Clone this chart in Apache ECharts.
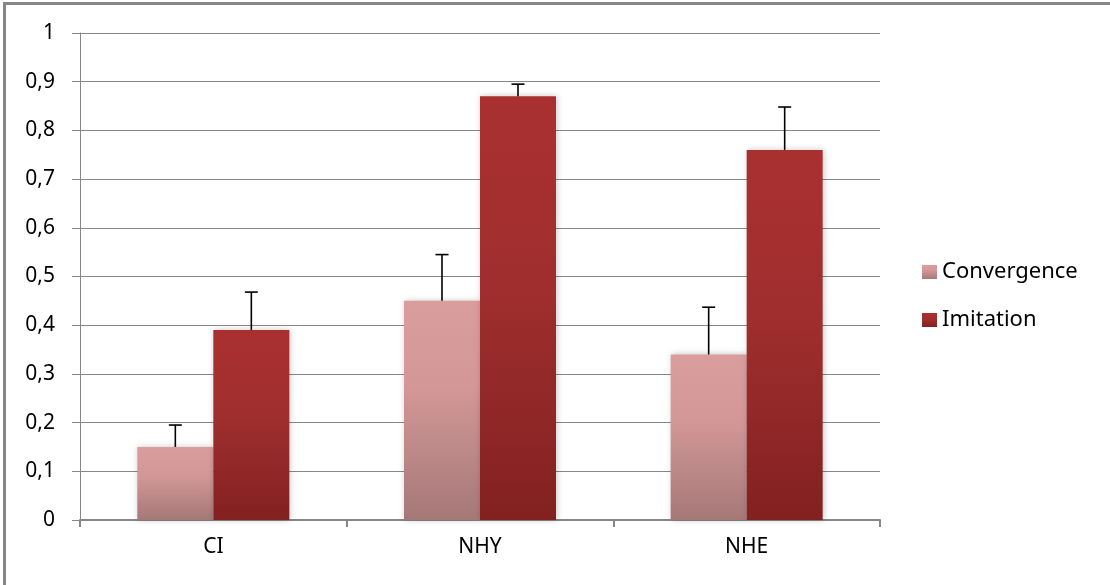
<!DOCTYPE html>
<html>
<head>
<meta charset="utf-8">
<script src="https://cdn.jsdelivr.net/npm/echarts@6/dist/echarts.min.js"></script>
<style>
html,body{margin:0;padding:0;background:#fff;}
#chart{width:1110px;height:585px;}
</style>
</head>
<body>
<div id="chart"></div>
<script>
const categories = ['CI', 'NHY', 'NHE'];
const seriesNames = ['Convergence', 'Imitation'];
const convergence = [0.15, 0.45, 0.34];
const convergenceErrTop = [0.195, 0.545, 0.437];
const imitation = [0.39, 0.87, 0.76];
const imitationErrTop = [0.468, 0.895, 0.848];

const chart = echarts.init(document.getElementById('chart'));
const FONT = 'Noto Sans';
const GAP = 0.43;

function errData(vals, tops) {
  return vals.map((v, i) => [i, v, tops[i]]);
}
function errRender(sign) {
  return function (params, api) {
    const idx = api.value(0);
    const p0 = api.coord([idx, api.value(1)]);
    const p1 = api.coord([idx, api.value(2)]);
    const band = api.size([1, 0])[0];
    const bw = band * (1 - GAP) / 2;
    const x = p0[0] + sign * bw / 2;
    const cap = 6.5;
    const style = { stroke: '#000', lineWidth: 1.6 };
    return {
      type: 'group',
      children: [
        { type: 'line', shape: { x1: x, y1: p0[1], x2: x, y2: p1[1] }, style: style },
        { type: 'line', shape: { x1: x - cap, y1: p1[1], x2: x + cap, y2: p1[1] }, style: style }
      ]
    };
  };
}

const gradConv = new echarts.graphic.LinearGradient(0, 0, 0, 1, [
  { offset: 0, color: '#da9d9d' },
  { offset: 0.4, color: '#d39797' },
  { offset: 1, color: '#a57878' }
]);
const gradImit = new echarts.graphic.LinearGradient(0, 0, 0, 1, [
  { offset: 0, color: '#aa3030' },
  { offset: 0.45, color: '#a02e2e' },
  { offset: 1, color: '#822120' }
]);

chart.setOption({
  animation: false,
  grid: { left: 80, right: 230, top: 33, bottom: 65 },
  legend: {
    orient: 'vertical',
    left: 917,
    top: 256,
    itemWidth: 15,
    itemHeight: 14,
    itemGap: 26,
    icon: 'rect',
    data: seriesNames,
    textStyle: { fontFamily: FONT, fontSize: 22, color: '#000' }
  },
  xAxis: {
    type: 'category',
    data: categories,
    axisLine: { lineStyle: { color: '#878787', width: 2 } },
    axisTick: { show: true, length: 7, lineStyle: { color: '#878787', width: 2 } },
    axisLabel: { fontFamily: FONT, fontSize: 21, color: '#000', margin: 17 }
  },
  yAxis: {
    type: 'value',
    min: 0,
    max: 1,
    interval: 0.1,
    axisLine: { show: true, lineStyle: { color: '#878787', width: 1 } },
    axisTick: { show: true, length: 8, lineStyle: { color: '#878787' } },
    splitLine: { lineStyle: { color: '#878787', width: 1 } },
    axisLabel: {
      fontFamily: FONT, fontSize: 21, color: '#000', margin: 25,
      formatter: v => String(Math.round(v * 10) / 10).replace('.', ',')
    }
  },
  series: [
    {
      name: seriesNames[0], type: 'bar', data: convergence,
      barGap: 0, barCategoryGap: (GAP * 100) + '%',
      itemStyle: { color: gradConv, shadowColor: 'rgba(0,0,0,0.22)', shadowBlur: 6, shadowOffsetX: 1 }
    },
    {
      name: seriesNames[1], type: 'bar', data: imitation,
      barGap: 0, barCategoryGap: (GAP * 100) + '%',
      itemStyle: { color: gradImit, shadowColor: 'rgba(0,0,0,0.22)', shadowBlur: 6, shadowOffsetX: 1 }
    },
    {
      type: 'custom', renderItem: errRender(-1), data: errData(convergence, convergenceErrTop),
      z: 10, silent: true, tooltip: { show: false }
    },
    {
      type: 'custom', renderItem: errRender(1), data: errData(imitation, imitationErrTop),
      z: 10, silent: true, tooltip: { show: false }
    }
  ],
  graphic: [
    { type: 'line', shape: { x1: 4.5, y1: 2, x2: 4.5, y2: 585 }, style: { stroke: '#878787', lineWidth: 3 } },
    { type: 'line', shape: { x1: 3, y1: 3.5, x2: 1110, y2: 3.5 }, style: { stroke: '#878787', lineWidth: 3 } }
  ]
});
</script>
</body>
</html>
